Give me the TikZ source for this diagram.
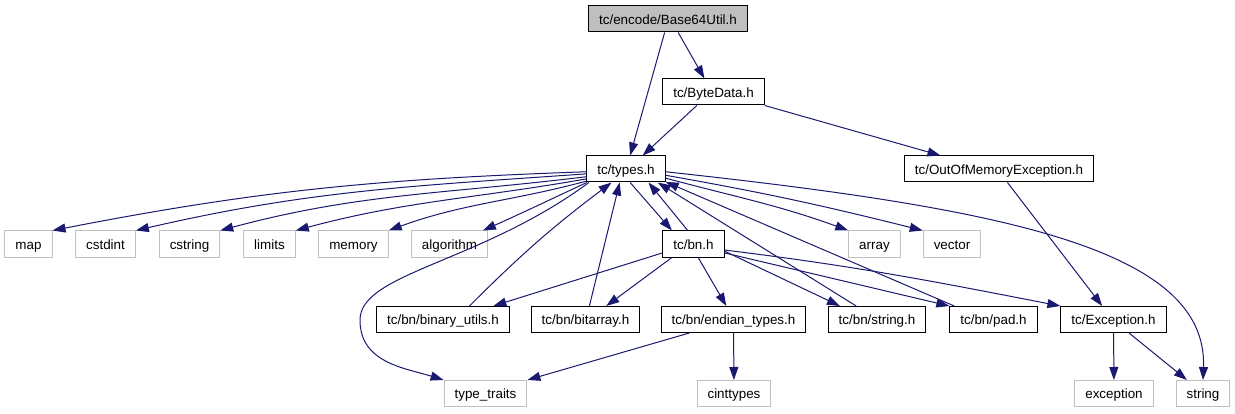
\documentclass[tikz,border=0pt]{standalone}
\usepackage{fontspec}
\usepackage{tikz}
\usetikzlibrary{arrows.meta}
\newfontfamily\helv{Liberation Sans}
\definecolor{edgeblue}{HTML}{191970}
\definecolor{extgray}{HTML}{BFBFBF}

\begin{document}
\begin{tikzpicture}[
  x=1pt, y=1pt,
  >={Triangle[length=13pt,width=9pt]},
  every node/.style={font=\helv\fontsize{13.4}{16}\selectfont},
  file/.style={draw=black, fill=white, line width=1pt, inner xsep=10.5pt,
               inner ysep=0pt, minimum height=26pt,
               text height=10.6pt, text depth=0pt},
  sysfile/.style={file, draw=extgray},
  rootfile/.style={file, fill=extgray},
  incl/.style={->, color=edgeblue, line width=1pt}
]
  \useasboundingbox (0,0) rectangle (1235,413);

  \node[rootfile] (base) at (668,394) {tc/encode/Base64Util.h};
  \node[file] (bytedata) at (713.5,321) {tc/ByteData.h};
  \node[file] (types) at (626,244) {tc/types.h};
  \node[file] (oom) at (999,244) {tc/OutOfMemoryException.h};

  % system headers of types.h
  \node[sysfile] (map) at (28.5,169) {map};
  \node[sysfile] (cstdint) at (105.5,169) {cstdint};
  \node[sysfile] (cstring) at (189.5,169) {cstring};
  \node[sysfile] (limits) at (269.5,169) {limits};
  \node[sysfile] (memory) at (353.5,169) {memory};
  \node[sysfile] (algorithm) at (449.5,169) {algorithm};
  \node[file] (bn) at (693.5,169) {tc/bn.h};
  \node[sysfile] (array) at (874.5,169) {array};
  \node[sysfile] (vector) at (952,169) {vector};

  \node[file] (binutils) at (443,93.5) {tc/bn/binary\_utils.h};
  \node[file] (bitarray) at (585.5,93.5) {tc/bn/bitarray.h};
  \node[file] (endian) at (733.5,93.5) {tc/bn/endian\_types.h};
  \node[file] (bnstring) at (877,93.5) {tc/bn/string.h};
  \node[file] (pad) at (993.5,93.5) {tc/bn/pad.h};
  \node[file] (exc) at (1113.5,93.5) {tc/Exception.h};

  \node[sysfile] (typetraits) at (485.5,19.5) {type\_traits};
  \node[sysfile] (cinttypes) at (734,19.5) {cinttypes};
  \node[sysfile] (exception) at (1114,19.5) {exception};
  \node[sysfile] (string) at (1203,19.5) {string};

  \draw[incl] (base.256) -- (types.73);
  \draw[incl] (base.307) -- (bytedata.124);
  \draw[incl] (bytedata.219) -- (types.39);
  \draw[incl] (bytedata.south east) -- (oom.167);

  \draw[incl] (types.184) to[out=182, in=11] (map.north east);
  \draw[incl] (types.187) to[out=184, in=13] (cstdint.north east);
  \draw[incl] (types.191) to[out=187, in=15] (cstring.north east);
  \draw[incl] (types.194) to[out=190, in=15] (limits.north east);
  \draw[incl] (types.197) to[out=195, in=20] (memory.north east);
  \draw[incl] (types.199) to[out=205, in=24] (algorithm.22);
  \draw[incl] (types.347) to[out=345, in=160] (array.north west);
  \draw[incl] (types.351) to[out=350, in=166] (vector.north west);
  \draw[incl] (types.356) .. controls (1000,205) and (1208,165) .. (string.north);
  \draw[incl] (types.200) .. controls (480,150) and (360,140) .. (360,93)
    .. controls (360,50) and (405,45) .. (typetraits.north west);

  % bn.h and back edges into types.h
  \draw[incl] (types.287) -- (bn.148);
  \draw[incl] (bn.113) -- (types.329);
  \draw[incl] (binutils.27) to[bend left=4] (types.223);
  \draw[incl] (bitarray.74) -- (types.245);
  \draw[incl] (bnstring.147) -- (types.337);
  \draw[incl] (pad.161) -- (types.342);

  \draw[incl] (bn.196) -- (binutils.15);
  \draw[incl] (bn.212) -- (bitarray.33);
  \draw[incl] (bn.289) -- (endian.118);
  \draw[incl] (bn.347) -- (bnstring.160);
  \draw[incl] (bn.344) -- (pad.north west);
  \draw[incl] (bn.349) to[out=-7, in=169] (exc.north west);

  \draw[incl] (oom.302) -- (exc.130);
  \draw[incl] (exc) -- (exception);
  \draw[incl] (exc.319) -- (string.140);
  \draw[incl] (endian.197) -- (typetraits.north east);
  \draw[incl] (endian) -- (cinttypes);
\end{tikzpicture}
\end{document}
